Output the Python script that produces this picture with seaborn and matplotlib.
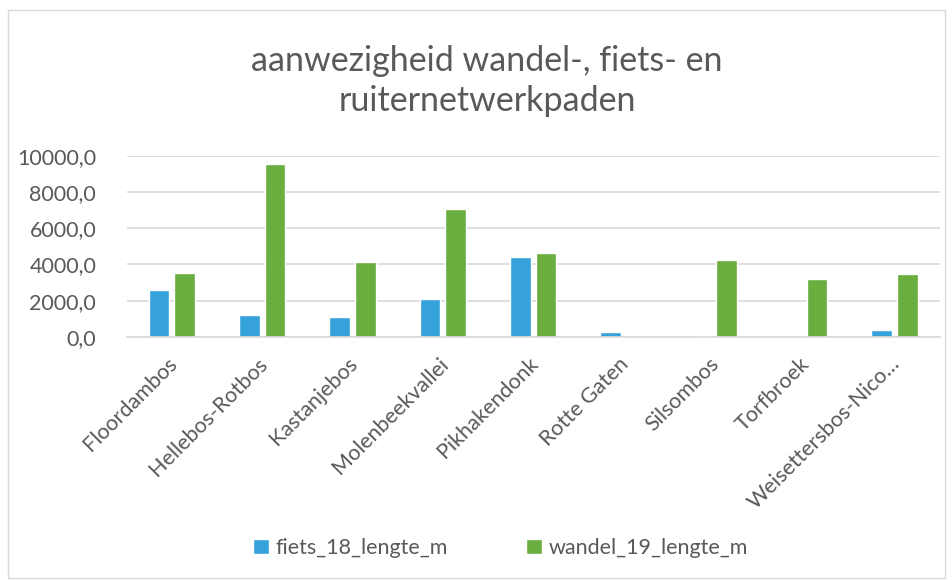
import numpy as np
import pandas as pd
import matplotlib
matplotlib.use("Agg")
import matplotlib.pyplot as plt
import matplotlib.transforms as mtransforms
import seaborn as sns
from matplotlib.patches import Rectangle
from matplotlib.ticker import FuncFormatter

gebieden = ['Floordambos', 'Hellebos-Rotbos', 'Kastanjebos', 'Molenbeekvallei',
            'Pikhakendonk', 'Rotte Gaten', 'Silsombos', 'Torfbroek',
            'Weisettersbos-Nico…']
fiets_18_lengte_m = [2590, 1230, 1080, 2110, 4400, 275, 60, 0, 370]
wandel_19_lengte_m = [3520, 9560, 4110, 7050, 4640, 0, 4260, 3190, 3470]
reeksen = ['fiets_18_lengte_m', 'wandel_19_lengte_m']
kleuren = ['#35a2dc', '#69ae3f']

df = pd.DataFrame({'gebied': gebieden * 2,
                   'reeks': [reeksen[0]] * len(gebieden) + [reeksen[1]] * len(gebieden),
                   'lengte': fiets_18_lengte_m + wandel_19_lengte_m})

sns.set_style('white')
plt.rcParams['font.family'] = ['Lato', 'DejaVu Sans']
grijs = '#595959'

fig = plt.figure(figsize=(9.53, 5.8), dpi=100)
ax = fig.add_axes([0.133, 0.419, 0.853, 0.3125])

sns.barplot(data=df, x='gebied', y='lengte', hue='reeks', palette=kleuren,
            width=0.57, gap=0.2, saturation=1, ax=ax, legend=True)

ax.set_ylim(0, 10000)
ax.set_yticks(np.arange(0, 10001, 2000))
ax.yaxis.set_major_formatter(FuncFormatter(lambda v, p: f'{v:.1f}'.replace('.', ',')))
ax.grid(axis='y', color='#d9d9d9', linewidth=1.2)
ax.set_axisbelow(True)
for s in ['top', 'right', 'left']:
    ax.spines[s].set_visible(False)
ax.spines['bottom'].set_color('#d9d9d9')
ax.spines['bottom'].set_linewidth(1.2)
ax.set_xlim(-0.5, len(gebieden) - 0.5)
ax.set_xlabel('')
ax.set_ylabel('')
ax.tick_params(axis='y', colors=grijs, labelsize=15.5, length=0, pad=22)
ax.tick_params(axis='x', colors=grijs, labelsize=15.5, length=0, pad=12)
verschuiving = mtransforms.ScaledTranslation(-5 / 100, 0, fig.dpi_scale_trans)
for lbl in ax.get_xticklabels():
    lbl.set_rotation(45)
    lbl.set_ha('right')
    lbl.set_rotation_mode('anchor')
    lbl.set_transform(lbl.get_transform() + verschuiving)

handles, labels = ax.get_legend_handles_labels()
ax.legend_.remove()
fig.legend(handles, labels, loc='center', bbox_to_anchor=(0.525, 0.055), ncol=2,
           frameon=False, fontsize=15.5, labelcolor=grijs, handlelength=0.75,
           handleheight=0.75, handletextpad=0.3, columnspacing=3.6)

fig.text(0.511, 0.895, 'aanwezigheid wandel-, fiets- en', ha='center', va='center',
         fontsize=24.5, color=grijs)
fig.text(0.511, 0.826, 'ruiternetwerkpaden', ha='center', va='center',
         fontsize=24.5, color=grijs)

fig.patches.append(Rectangle((8 / 953, 2 / 580), 937 / 953, 568 / 580,
                             transform=fig.transFigure, fill=False,
                             edgecolor='#d9d9d9', linewidth=1))

fig.savefig('out.png', dpi=100)
